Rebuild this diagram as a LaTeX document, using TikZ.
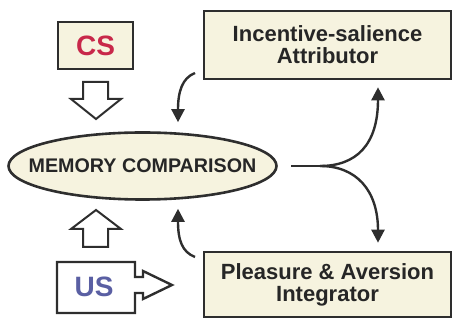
\documentclass[tikz,border=0pt]{standalone}
\usepackage{fontspec}
\setmainfont{Liberation Sans}
\usetikzlibrary{shapes.geometric,arrows.meta}
\definecolor{cream}{HTML}{F6F3DF}
\definecolor{edge}{HTML}{2E2E2E}
\definecolor{csred}{HTML}{C8284A}
\definecolor{usblue}{HTML}{5A5FA3}
\definecolor{txt}{HTML}{262626}
\begin{document}
\begin{tikzpicture}[x=1pt,y=-1pt,
  box/.style={draw=edge, line width=2.6pt, fill=cream, inner sep=0pt, align=center, text=txt,
    font=\bfseries\fontsize{22}{22}\selectfont},
  conn/.style={line width=2.4pt, draw=edge, -{Triangle[length=13pt,width=13pt]}},
  plain/.style={line width=2.4pt, draw=edge},
  hollow/.style={draw=edge, line width=2pt, fill=white, line join=miter}]
\useasboundingbox (0,0) rectangle (453,320);
% boxes
\node[box, minimum width=247pt, minimum height=68pt] (isa) at (327.5,45) {Incentive-salience\\Attributor};
\node[box, minimum width=247pt, minimum height=65pt] (pai) at (327.5,284.5) {Pleasure \& Aversion\\Integrator};
\node[box, minimum width=75pt, minimum height=47pt, text=csred, font=\bfseries\fontsize{28}{28}\selectfont] (cs) at (95.5,45.5) {CS};
\node[draw=edge, line width=2.6pt, fill=cream, ellipse, minimum width=268pt, minimum height=67pt, inner sep=0pt,
  text=txt, font=\bfseries\fontsize{19.7}{20}\selectfont] (mc) at (142.5,166) {\makebox[0pt]{MEMORY COMPARISON}};
% US box with arrow
\draw[hollow, line width=2.4pt] (57,262) -- (135,262) -- (135,277) -- (143,277) -- (143,271) -- (172,285)
  -- (143,299) -- (143,293) -- (135,293) -- (135,313) -- (57,313) -- cycle;
\node[text=usblue, font=\bfseries\fontsize{28}{28}\selectfont, inner sep=0pt] (us) at (94,287) {US};
% hollow arrows
\draw[hollow] (83,82) -- (108,82) -- (108,99) -- (121,99) -- (96,119) -- (71,99) -- (83,99) -- cycle;
\draw[hollow] (83,247) -- (108,247) -- (108,229) -- (121,229) -- (96,210) -- (71,229) -- (83,229) -- cycle;
% left curved arrows
\coordinate (a1) at (195,73);
\coordinate (a2) at (195,257);
\draw[conn] (a1) .. controls (182,78) and (178,92) .. ([xshift=35.5pt,yshift=9pt]mc.north);
\draw[conn] (a2) .. controls (182,252) and (178,240) .. ([xshift=35.5pt,yshift=-8pt]mc.south);
% branching output
\coordinate (b0) at (291,166);
\coordinate (b1) at (320,166);
\draw[plain] (b0) -- (b1);
\draw[conn] (b1) .. controls (356,166) and (378,145) .. ([xshift=50.5pt,yshift=-7pt]isa.south);
\draw[conn] (b1) .. controls (356,166) and (378,190) .. ([xshift=50.5pt,yshift=8pt]pai.north);
\end{tikzpicture}
\end{document}
